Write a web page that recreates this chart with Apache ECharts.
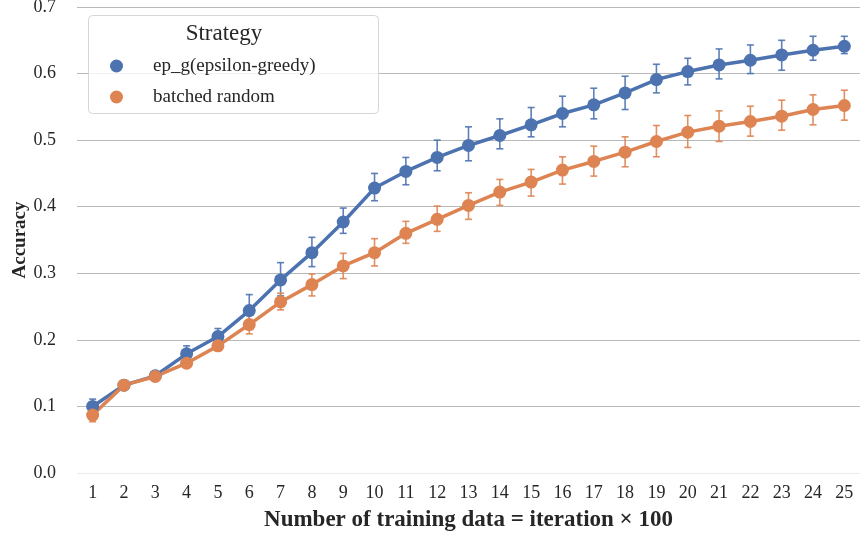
<!DOCTYPE html>
<html>
<head>
<meta charset="utf-8">
<script src="https://cdn.jsdelivr.net/npm/echarts@6/dist/echarts.min.js"></script>
<style>
  html, body { margin: 0; padding: 0; background: #fff; }
  #chart { width: 860px; height: 536px; }
</style>
</head>
<body>
<div id="chart"></div>
<script>
// Iterations 1..25 (x100 training samples)
const iterations = ['1','2','3','4','5','6','7','8','9','10','11','12','13','14','15','16','17','18','19','20','21','22','23','24','25'];

// ep_g (epsilon-greedy): mean accuracy and confidence interval bounds
const epgMean = [0.100, 0.132, 0.146, 0.179, 0.205, 0.244, 0.290, 0.331, 0.377, 0.428, 0.453, 0.474, 0.492, 0.507, 0.523, 0.540, 0.553, 0.571, 0.591, 0.603, 0.613, 0.620, 0.628, 0.635, 0.641];
const epgLow  = [0.090, 0.128, 0.142, 0.168, 0.194, 0.221, 0.266, 0.310, 0.360, 0.409, 0.433, 0.454, 0.469, 0.487, 0.505, 0.520, 0.532, 0.546, 0.571, 0.583, 0.592, 0.600, 0.605, 0.620, 0.630];
const epgHigh = [0.111, 0.136, 0.150, 0.191, 0.217, 0.268, 0.316, 0.354, 0.398, 0.450, 0.474, 0.500, 0.520, 0.532, 0.549, 0.566, 0.578, 0.596, 0.614, 0.623, 0.637, 0.643, 0.650, 0.656, 0.656];

// batched random: mean accuracy and confidence interval bounds
const brMean = [0.087, 0.132, 0.145, 0.165, 0.191, 0.223, 0.257, 0.283, 0.311, 0.331, 0.360, 0.381, 0.402, 0.422, 0.437, 0.455, 0.468, 0.482, 0.498, 0.512, 0.521, 0.528, 0.536, 0.546, 0.552];
const brLow  = [0.077, 0.128, 0.141, 0.159, 0.184, 0.209, 0.245, 0.266, 0.292, 0.311, 0.345, 0.363, 0.381, 0.402, 0.416, 0.434, 0.446, 0.460, 0.475, 0.489, 0.498, 0.506, 0.515, 0.523, 0.530];
const brHigh = [0.097, 0.136, 0.149, 0.171, 0.198, 0.237, 0.270, 0.299, 0.330, 0.352, 0.378, 0.401, 0.421, 0.441, 0.456, 0.475, 0.491, 0.505, 0.522, 0.537, 0.544, 0.551, 0.560, 0.568, 0.575];

const yTicks = [0, 0.1, 0.2, 0.3, 0.4, 0.5, 0.6, 0.7];

const BLUE = '#4c72b0';
const ORANGE = '#dd8452';
const FONT = '"Liberation Serif", "DejaVu Serif", serif';
const INK = '#262626';

function errorBars(name, color, low, high) {
  return {
    name: name,
    type: 'custom',
    z: 1,
    silent: true,
    encode: { x: 0, y: [1, 2] },
    data: iterations.map((c, i) => [i, low[i], high[i]]),
    renderItem: function (params, api) {
      const idx = api.value(0);
      const lo = api.coord([idx, api.value(1)]);
      const hi = api.coord([idx, api.value(2)]);
      const cap = 3.5;
      const style = { stroke: color, lineWidth: 1.6, opacity: 0.9 };
      return {
        type: 'group',
        children: [
          { type: 'line', shape: { x1: lo[0], y1: lo[1], x2: hi[0], y2: hi[1] }, style: style },
          { type: 'line', shape: { x1: lo[0] - cap, y1: lo[1], x2: lo[0] + cap, y2: lo[1] }, style: style },
          { type: 'line', shape: { x1: hi[0] - cap, y1: hi[1], x2: hi[0] + cap, y2: hi[1] }, style: style }
        ]
      };
    }
  };
}

function meanLine(name, color, values) {
  return {
    name: name,
    type: 'line',
    z: 3,
    data: values,
    symbol: 'circle',
    symbolSize: 13,
    showAllSymbol: true,
    lineStyle: { color: color, width: 3.5 },
    itemStyle: { color: color },
    emphasis: { disabled: true },
    animation: false
  };
}

const gridColors = yTicks.map((v, i) => (i === 0 ? '#ececec' : '#b9b9b9'));

const chart = echarts.init(document.getElementById('chart'), null, { renderer: 'canvas' });
chart.setOption({
  animation: false,
  backgroundColor: '#ffffff',
  textStyle: { fontFamily: FONT, color: INK },
  grid: { left: 77, right: 0, top: 7, bottom: 63, containLabel: false, outerBoundsMode: 'none' },
  xAxis: {
    type: 'category',
    data: iterations,
    boundaryGap: true,
    axisLine: { show: false },
    axisTick: { show: false },
    axisLabel: { fontFamily: FONT, fontSize: 18, color: INK, margin: 11 },
    name: 'Number of training data = iteration × 100',
    nameLocation: 'middle',
    nameGap: 36,
    nameMoveOverlap: false,
    nameTextStyle: { fontFamily: FONT, fontSize: 23, fontWeight: 'bold', color: INK }
  },
  yAxis: {
    type: 'value',
    min: 0,
    max: 0.7,
    interval: 0.1,
    axisLine: { show: false },
    axisTick: { show: false },
    axisLabel: {
      fontFamily: FONT, fontSize: 18, color: INK, margin: 21,
      formatter: v => v.toFixed(1)
    },
    splitLine: { show: true, lineStyle: { color: gridColors, width: 1.2 } },
    name: 'Accuracy',
    nameLocation: 'middle',
    nameRotate: 90,
    nameGap: 47,
    nameMoveOverlap: false,
    nameTextStyle: { fontFamily: FONT, fontSize: 19, fontWeight: 'bold', color: INK }
  },
  legend: {
    data: ['ep_g(epsilon-greedy)', 'batched random'],
    orient: 'vertical',
    left: 110,
    top: 56,
    padding: 0,
    icon: 'circle',
    itemWidth: 13,
    itemHeight: 13,
    itemGap: 11,
    z: 10,
    selectedMode: false,
    textStyle: { fontFamily: FONT, fontSize: 19, color: INK, lineHeight: 20, padding: [0, 0, 0, 25] }
  },
  graphic: [
    {
      type: 'rect',
      z: 8,
      shape: { x: 88.5, y: 15.5, width: 290, height: 98, r: 4 },
      style: { fill: 'rgba(255,255,255,0.8)', stroke: '#d6d6d6', lineWidth: 1 }
    },
    {
      type: 'text',
      z: 9,
      x: 224,
      y: 34,
      style: { text: 'Strategy', fontFamily: FONT, fontSize: 23, fill: INK, align: 'center', verticalAlign: 'middle' }
    }
  ],
  series: [
    errorBars('ep_g(epsilon-greedy) CI', BLUE, epgLow, epgHigh),
    errorBars('batched random CI', ORANGE, brLow, brHigh),
    meanLine('ep_g(epsilon-greedy)', BLUE, epgMean),
    meanLine('batched random', ORANGE, brMean)
  ]
});
</script>
</body>
</html>
